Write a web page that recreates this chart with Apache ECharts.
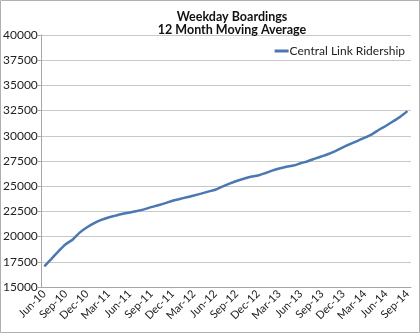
<!DOCTYPE html>
<html>
<head>
<meta charset="utf-8">
<script src="https://cdn.jsdelivr.net/npm/echarts@6/dist/echarts.min.js"></script>
<style>
html,body{margin:0;padding:0;background:#fff;}
#c{width:420px;height:333px;}
</style>
</head>
<body>
<div id="c"></div>
<script>
const categories = ["Jun-10","Jul-10","Aug-10","Sep-10","Oct-10","Nov-10","Dec-10","Jan-11","Feb-11","Mar-11","Apr-11","May-11",
"Jun-11","Jul-11","Aug-11","Sep-11","Oct-11","Nov-11","Dec-11","Jan-12","Feb-12","Mar-12","Apr-12","May-12",
"Jun-12","Jul-12","Aug-12","Sep-12","Oct-12","Nov-12","Dec-12","Jan-13","Feb-13","Mar-13","Apr-13","May-13",
"Jun-13","Jul-13","Aug-13","Sep-13","Oct-13","Nov-13","Dec-13","Jan-14","Feb-14","Mar-14","Apr-14","May-14",
"Jun-14","Jul-14","Aug-14","Sep-14"];
const ridership = [17050,17800,18570,19250,19720,20420,20930,21340,21660,21900,22080,22260,
22390,22540,22700,22920,23110,23320,23560,23730,23900,24070,24260,24460,
24650,24960,25250,25520,25740,25930,26060,26290,26540,26750,26930,27050,
27280,27480,27730,27970,28220,28540,28880,29200,29500,29810,30150,30600,
31000,31440,31900,32450];
const seriesName = "Central Link Ridership";
const titleLines = ["Weekday Boardings","12 Month Moving Average"];

const font = "Lato, 'Open Sans', sans-serif";
const chart = echarts.init(document.getElementById('c'), null, {renderer:'canvas'});
chart.setOption({
  animation:false,
  backgroundColor:'#fff',
  textStyle:{fontFamily:font},
  title:{
    text: titleLines.join('\n'),
    left: 227, top: 5, textAlign:'center',
    textStyle:{fontFamily:font,fontSize:12.5,fontWeight:'bold',color:'#111',lineHeight:13}
  },
  legend:{
    right: 10, top: 40,
    itemWidth: 14, itemHeight: 3, itemGap: 0,
    icon: 'rect',
    textStyle:{fontFamily:font,fontSize:12,color:'#222',padding:[0,0,0,-4]},
    data:[seriesName]
  },
  grid:{left:37,right:9,top:35,bottom:46,containLabel:false},
  xAxis:{
    type:'category',
    data:categories,
    boundaryGap:true,
    axisLine:{lineStyle:{color:'#a6a6a6',width:1}},
    axisTick:{interval:2,length:4,lineStyle:{color:'#a6a6a6'}},
    axisLabel:{interval:2,rotate:45,fontSize:11,color:'#222',fontFamily:font,margin:5},
    splitLine:{show:false}
  },
  yAxis:{
    type:'value',
    min:15000,max:40000,interval:2500,
    axisLine:{show:true,lineStyle:{color:'#a6a6a6'}},
    axisTick:{show:true,length:3,lineStyle:{color:'#a6a6a6'}},
    axisLabel:{fontSize:12,color:'#222',fontFamily:font,margin:3,formatter:function(v){return String(v);}},
    splitLine:{lineStyle:{color:'#c8c8c8',width:1}}
  },
  series:[{
    name:seriesName,
    type:'line',
    data:ridership,
    showSymbol:false,
    smooth:0.2,
    lineStyle:{color:'#4a78b0',width:2.5},
    itemStyle:{color:'#4a78b0'}
  }],
  graphic:[{
    type:'rect',
    shape:{x:0.5,y:0.5,width:419,height:332},
    style:{fill:'none',stroke:'#b0b0b0',lineWidth:1},
    silent:true
  }]
});
</script>
</body>
</html>
